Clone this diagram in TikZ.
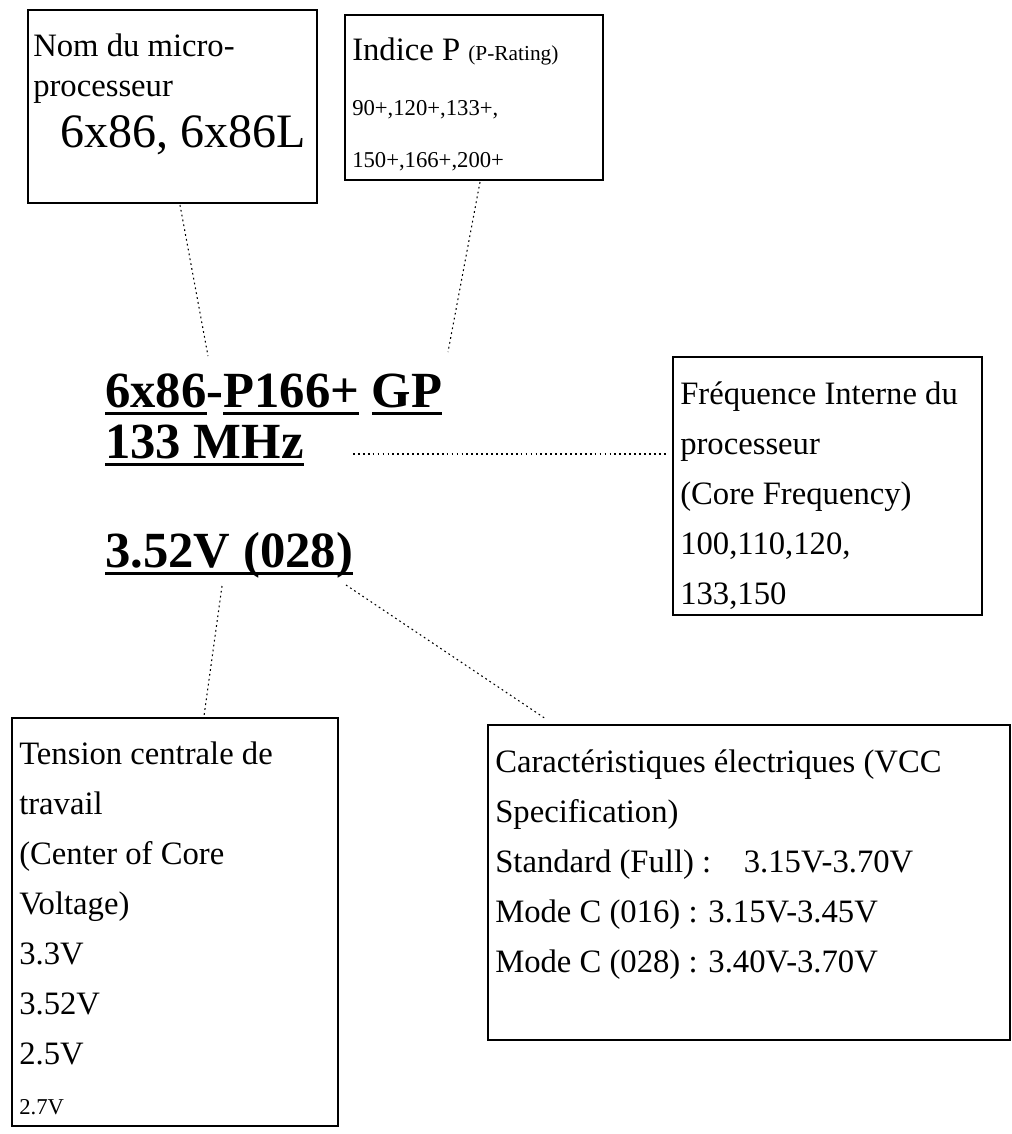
\documentclass[tikz,border=0pt]{standalone}
\usepackage{fontspec}
\setmainfont{Liberation Serif}
\usetikzlibrary{positioning,calc}
\tikzset{
  box/.style={draw, line width=1.6pt, inner sep=0pt},
  txt/.style={anchor=north west, inner sep=0pt, align=left,
    font=\fontsize{24.5}{37.5}\selectfont},
  big/.style={anchor=base west, inner sep=0pt,
    font=\fontsize{38}{40}\selectfont\bfseries},
  lien/.style={line width=0.8pt, dash pattern=on 1.3pt off 2.4pt}
}
\newcommand{\petit}{\fontsize{16}{17}\selectfont}
\newcommand{\souligne}[1]{\sbox0{#1}\rlap{\rule[-6pt]{\wd0}{2.4pt}}\usebox0}
\begin{document}
\begin{tikzpicture}[x=0.75pt,y=-0.75pt]
\useasboundingbox (0,0) rectangle (1012,1134);
% boites
\draw[box] (28,10) rectangle (317,203);
\draw[box] (345,15) rectangle (603,180);
\draw[box] (673,357) rectangle (982,615);
\draw[box] (12,718) rectangle (338,1126);
\draw[box] (488,725) rectangle (1010,1040);
% textes des boites
\node[txt, font=\fontsize{24.5}{30}\selectfont] (nom) at (33,34) {Nom du micro-\\processeur};
\node[anchor=base west, inner sep=0pt, font=\fontsize{36}{38}\selectfont] (nomv) at (60,148) {6x86, 6x86L};
\node[txt] (indice) at (352,38) {Indice P {\petit (P-Rating)}};
\node[anchor=north west, inner sep=0pt, align=left, font=\fontsize{17}{39}\selectfont] (indv) at (352,100) {90+,120+,133+,\\150+,166+,200+};
\node[txt] (freq) at (680,382) {Fréquence Interne du\\processeur\\(Core Frequency)\\100,110,120,\\133,150};
\node[txt] (tens) at (19,742) {Tension centrale de\\travail\\(Center of Core\\Voltage)\\3.3V\\3.52V\\2.5V\\{\fontsize{17}{17}\selectfont 2.7V}};
\node[txt] (carac) at (495,750) {Caractéristiques électriques (VCC\\Specification)\\Standard (Full) :\hspace{1em}3.15V-3.70V\\Mode C (016) : 3.15V-3.45V\\Mode C (028) : 3.40V-3.70V};
% reference
\node[big] (nomcpu) at (105,407) {\souligne{6x86}-\souligne{P166+} \souligne{GP}};
\node[big] (mhz) at (105,458) {\souligne{133 MHz}};
\node[big] (volt) at (105,567) {\souligne{3.52V (028)}};
% liaisons
\coordinate (a1) at (180,205); \coordinate (a2) at (208,356);
\coordinate (b1) at (480,182); \coordinate (b2) at (448,352);
\coordinate (c1) at (353,454); \coordinate (c2) at (667,454);
\coordinate (d1) at (222,586); \coordinate (d2) at (204,716);
\coordinate (e1) at (346,585); \coordinate (e2) at (546,719);
\draw[lien] (a1) -- (a2);
\draw[lien] (b1) -- (b2);
\draw[lien] (c1) -- (c2);
\draw[lien] (d1) -- (d2);
\draw[lien] (e1) -- (e2);
\end{tikzpicture}
\end{document}
